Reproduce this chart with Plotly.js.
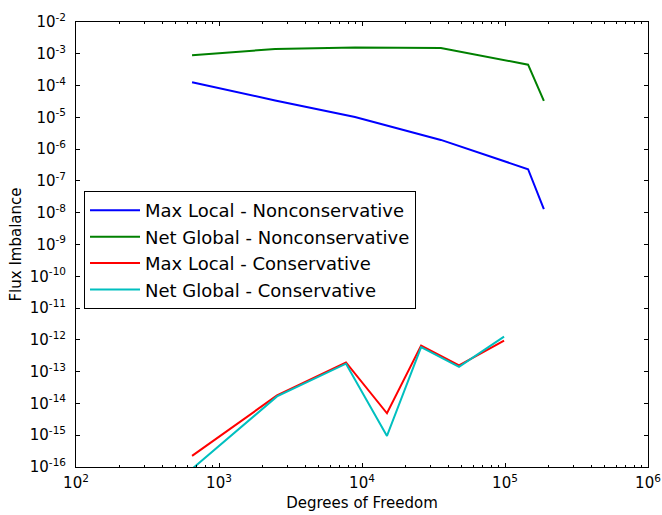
<!DOCTYPE html>
<html>
<head>
<meta charset="utf-8">
<script src="https://cdn.plot.ly/plotly-3.0.1.min.js"></script>
<style>html,body{margin:0;padding:0;background:#fff;}#chart{width:662px;height:515px;}</style>
</head>
<body>
<div id="chart"></div>
<script>
// Nonconservative scheme
var dofNonconservative = [648, 2470, 8930, 35600, 145000, 187000];
var maxLocalNonconservative = [1.27e-4, 3.4e-5, 1.03e-5, 1.95e-6, 2.33e-7, 1.29e-8];
var netGlobalNonconservative = [8.97e-4, 1.42e-3, 1.58e-3, 1.52e-3, 4.54e-4, 3.28e-5];
// Conservative scheme
var dofConservative = [648, 2545, 7730, 14950, 25900, 47700, 98500];
var maxLocalConservative = [2.24e-16, 1.78e-14, 1.95e-13, 4.9e-15, 6.6e-13, 1.58e-13, 9.5e-13];
var netGlobalConservative = [8.7e-17, 1.66e-14, 1.78e-13, 9.5e-16, 5.9e-13, 1.41e-13, 1.26e-12];

var seriesNames = ["Max Local - Nonconservative", "Net Global - Nonconservative",
                   "Max Local - Conservative", "Net Global - Conservative"];
var seriesColors = ["#0000ff", "#008000", "#ff0000", "#00bfbf"];

var xTickExps = [2, 3, 4, 5, 6];
var yTickExps = [-16, -15, -14, -13, -12, -11, -10, -9, -8, -7, -6, -5, -4, -3, -2];

function sup(e) { return "10<sup>" + e + "</sup>"; }

var xs = [dofNonconservative, dofNonconservative, dofConservative, dofConservative];
var ys = [maxLocalNonconservative, netGlobalNonconservative, maxLocalConservative, netGlobalConservative];

var traces = seriesNames.map(function (n, i) {
  return {
    x: xs[i], y: ys[i], name: n, mode: "lines", type: "scatter",
    line: { color: seriesColors[i], width: 2 }
  };
});

var font = "DejaVu Sans, sans-serif";

var layout = {
  width: 662, height: 515,
  margin: { l: 76, r: 14, t: 22, b: 48 },
  paper_bgcolor: "#fff", plot_bgcolor: "#fff",
  font: { family: font, color: "#000" },
  showlegend: true,
  legend: {
    x: 0.014, y: 0.62, xanchor: "left", yanchor: "top",
    bordercolor: "#000", borderwidth: 1, bgcolor: "#fff",
    font: { family: font, size: 18, color: "#000" },
    itemwidth: 50, tracegroupgap: 0
  },
  xaxis: {
    type: "log", range: [2, 6],
    tickvals: xTickExps.map(function (e) { return Math.pow(10, e); }),
    ticktext: xTickExps.map(sup),
    ticks: "inside", ticklen: 4, tickwidth: 1, tickcolor: "#000",
    showline: true, linecolor: "#000", linewidth: 1, mirror: "ticks",
    showgrid: false, zeroline: false,
    tickfont: { family: font, size: 15, color: "#000" },
    ticklabelstandoff: 2,
    minor: { ticks: "inside", ticklen: 2, tickcolor: "#000", dtick: "D1", showgrid: false },
    title: { text: "Degrees of Freedom", font: { family: font, size: 15, color: "#000" }, standoff: 6 }
  },
  yaxis: {
    type: "log", range: [-16, -2],
    tickvals: yTickExps.map(function (e) { return Math.pow(10, e); }),
    ticktext: yTickExps.map(sup),
    ticks: "inside", ticklen: 4, tickwidth: 1, tickcolor: "#000",
    showline: true, linecolor: "#000", linewidth: 1, mirror: "ticks",
    showgrid: false, zeroline: false,
    tickfont: { family: font, size: 15, color: "#000" },
    ticklabelstandoff: 6,
    title: { text: "Flux Imbalance", font: { family: font, size: 15, color: "#000" }, standoff: 4 }
  }
};

Plotly.newPlot("chart", traces, layout, { displayModeBar: false, staticPlot: true });
</script>
</body>
</html>
